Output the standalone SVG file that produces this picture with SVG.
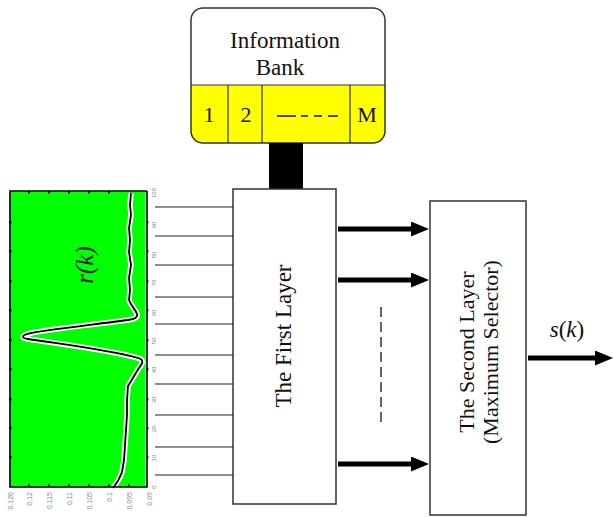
<svg xmlns="http://www.w3.org/2000/svg" width="613" height="517" viewBox="0 0 613 517">
  <defs>
    <style>
      .box { fill: #ffffff; stroke: #333333; stroke-width: 1.5; }
      .serif { font-family: 'Liberation Serif', 'DejaVu Serif', serif; fill: #111111; }
      .big { font-size: 22px; }
      .axis-lbl { font-family: 'Liberation Sans', Arial, sans-serif; font-size: 6px; fill: #8a8a8a; }
      .amp-lbl { font-size: 7px; }
      .feed { stroke: #222222; stroke-width: 1.2; fill: none; }
      .arrow { stroke: #000000; stroke-width: 5; fill: none; marker-end: url(#head); }
      .frame { fill: none; stroke: #000000; stroke-width: 1.6; }
      .tick { fill: #000000; }
    </style>
    <marker id="head" markerUnits="userSpaceOnUse" markerWidth="18" markerHeight="15" refX="0" refY="7.5" orient="auto">
      <path d="M0,0 L18,7.5 L0,15 Z" fill="#000000"/>
    </marker>
  </defs>

  <rect width="613" height="517" fill="#ffffff"/>

  <!-- Received signal r(k) plotted against sample index -->
  <g id="signal-plot">
    <rect x="10" y="191" width="137" height="296" fill="#ffffff"/>
    <rect x="10.5" y="191.5" width="135" height="295" fill="#00ff00"/>
    <path d="M131,193 L130,205 L131,215 L129,228 L130,240 L129,252 L131,265 L129,278 L130,290 L129,300 C131,306 136,310 137,314 C138,318 134,319 128,320 C100,324 40,330 27,334 C21,336 22,338 28,339 C60,344 110,350 138,358 C145,360 142,364 139,368 C135,374 132,380 128,386 L127,400 L127,415 L126,430 L125,445 L124,460 L122,472 C120,478 117,483 113,488"
          fill="none" stroke="#ffffff" stroke-width="5.5" stroke-linejoin="round"/>
    <path d="M131,193 L130,205 L131,215 L129,228 L130,240 L129,252 L131,265 L129,278 L130,290 L129,300 C131,306 136,310 137,314 C138,318 134,319 128,320 C100,324 40,330 27,334 C21,336 22,338 28,339 C60,344 110,350 138,358 C145,360 142,364 139,368 C135,374 132,380 128,386 L127,400 L127,415 L126,430 L125,445 L124,460 L122,472 C120,478 117,483 113,488"
          fill="none" stroke="#000000" stroke-width="1.8" stroke-linejoin="round"/>
    <path class="frame" d="M147,191 L10,191 L10,487 L147,487 L147,191"/>
    <!-- axis ticks -->
    <g class="tick">
      <rect x="9" y="221" width="2.4" height="2.4"/><rect x="9" y="250" width="2.4" height="2.4"/>
      <rect x="9" y="280" width="2.4" height="2.4"/><rect x="9" y="309" width="2.4" height="2.4"/>
      <rect x="9" y="339" width="2.4" height="2.4"/><rect x="9" y="368" width="2.4" height="2.4"/>
      <rect x="9" y="398" width="2.4" height="2.4"/><rect x="9" y="427" width="2.4" height="2.4"/>
      <rect x="9" y="456" width="2.4" height="2.4"/>
      <rect x="146" y="221" width="2.4" height="2.4"/><rect x="146" y="250" width="2.4" height="2.4"/>
      <rect x="146" y="280" width="2.4" height="2.4"/><rect x="146" y="309" width="2.4" height="2.4"/>
      <rect x="146" y="339" width="2.4" height="2.4"/><rect x="146" y="368" width="2.4" height="2.4"/>
      <rect x="146" y="398" width="2.4" height="2.4"/><rect x="146" y="427" width="2.4" height="2.4"/>
      <rect x="146" y="456" width="2.4" height="2.4"/>
      <rect x="28" y="191" width="2" height="2.5"/><rect x="48" y="191" width="2" height="2.5"/>
      <rect x="68" y="191" width="2" height="2.5"/><rect x="88" y="191" width="2" height="2.5"/>
      <rect x="108" y="191" width="2" height="2.5"/>
      <rect x="28" y="484.5" width="2" height="2.5"/><rect x="48" y="484.5" width="2" height="2.5"/>
      <rect x="68" y="484.5" width="2" height="2.5"/><rect x="88" y="484.5" width="2" height="2.5"/>
      <rect x="108" y="484.5" width="2" height="2.5"/><rect x="128" y="484.5" width="2" height="2.5"/>
    </g>
    <!-- sample index labels -->
    <g class="axis-lbl" text-anchor="middle">
      <text transform="translate(156,193) rotate(-90)">100</text>
      <text transform="translate(156,225) rotate(-90)">90</text>
      <text transform="translate(156,255) rotate(-90)">80</text>
      <text transform="translate(156,283) rotate(-90)">70</text>
      <text transform="translate(156,313) rotate(-90)">60</text>
      <text transform="translate(156,341) rotate(-90)">50</text>
      <text transform="translate(156,370) rotate(-90)">40</text>
      <text transform="translate(156,400) rotate(-90)">30</text>
      <text transform="translate(156,429) rotate(-90)">20</text>
      <text transform="translate(156,458) rotate(-90)">10</text>
      <text transform="translate(156,487) rotate(-90)">0</text>
    </g>
    <!-- amplitude labels -->
    <g class="axis-lbl amp-lbl" text-anchor="end">
      <text transform="translate(12.5,492) rotate(-90)">0.126</text>
      <text transform="translate(31.5,492) rotate(-90)">0.12</text>
      <text transform="translate(51.5,492) rotate(-90)">0.115</text>
      <text transform="translate(71.5,492) rotate(-90)">0.11</text>
      <text transform="translate(91.5,492) rotate(-90)">0.105</text>
      <text transform="translate(111.5,492) rotate(-90)">0.1</text>
      <text transform="translate(131.5,492) rotate(-90)">0.095</text>
      <text transform="translate(151.5,492) rotate(-90)">0.09</text>
    </g>
    <text class="serif" font-size="25" font-style="italic" text-anchor="middle" transform="translate(93,265) rotate(-90)">r(k)</text>
  </g>

  <!-- Information bank with its M stored patterns -->
  <g id="information-bank">
    <path d="M191,85 L191,20 Q191,8 203,8 L373,8 Q385,8 385,20 L385,85 Z" fill="#ffffff"/>
    <path d="M191,85 L385,85 L385,131 Q385,143 373,143 L203,143 Q191,143 191,131 Z" fill="#ffff00"/>
    <rect x="191" y="8" width="194" height="135" rx="12" ry="12" fill="none" stroke="#333333" stroke-width="1.5"/>
    <path d="M191,85 L385,85 M228,85 L228,143 M262,85 L262,143 M350,85 L350,143" stroke="#333333" stroke-width="1.2" fill="none"/>
    <text class="serif" x="285" y="48" font-size="23" text-anchor="middle">Information</text>
    <text class="serif" x="280" y="75" font-size="23" text-anchor="middle">Bank</text>
    <text class="serif big" x="209" y="122" text-anchor="middle">1</text>
    <text class="serif big" x="246" y="122" text-anchor="middle">2</text>
    <path d="M277,116 H296 M301,116 H308 M314,116 H322 M328,116 H338" stroke="#111111" stroke-width="1.3" fill="none"/>
    <text class="serif big" x="367" y="122" text-anchor="middle">M</text>
    <rect x="269" y="143" width="34" height="46" fill="#000000"/>
  </g>

  <!-- First layer -->
  <g id="first-layer">
    <rect class="box" x="233" y="189" width="103" height="315"/>
    <text class="serif" font-size="23" text-anchor="middle" transform="translate(291,336) rotate(-90)">The First Layer</text>
  </g>

  <!-- Second layer -->
  <g id="second-layer">
    <rect class="box" x="430" y="201" width="96" height="314"/>
    <text class="serif big" text-anchor="middle" transform="translate(474,352) rotate(-90)">The Second Layer</text>
    <text class="serif big" text-anchor="middle" transform="translate(498,352) rotate(-90)">(Maximum Selector)</text>
  </g>

  <!-- Connectors -->
  <g id="connectors">
    <g class="feed">
      <line x1="155" y1="207" x2="233" y2="207"/>
      <line x1="155" y1="236" x2="233" y2="236"/>
      <line x1="155" y1="265" x2="233" y2="265"/>
      <line x1="155" y1="297" x2="233" y2="297"/>
      <line x1="155" y1="324" x2="233" y2="324"/>
      <line x1="155" y1="355" x2="233" y2="355"/>
      <line x1="155" y1="384" x2="233" y2="384"/>
      <line x1="155" y1="415" x2="233" y2="415"/>
      <line x1="155" y1="447" x2="233" y2="447"/>
      <line x1="155" y1="475" x2="233" y2="475"/>
    </g>
    <line class="arrow" x1="338" y1="229" x2="411" y2="229"/>
    <line class="arrow" x1="338" y1="280" x2="411" y2="280"/>
    <line class="arrow" x1="338" y1="464" x2="411" y2="464"/>
    <line x1="381" y1="307" x2="381" y2="425" stroke="#333333" stroke-width="1.5" stroke-dasharray="10,5"/>
    <line class="arrow" x1="528" y1="358" x2="595" y2="358"/>
  </g>

  <!-- Output label -->
  <g id="output">
    <text class="serif" font-size="23" x="567" y="337" text-anchor="middle"><tspan font-style="italic">s</tspan>(<tspan font-style="italic">k</tspan>)</text>
  </g>
</svg>
